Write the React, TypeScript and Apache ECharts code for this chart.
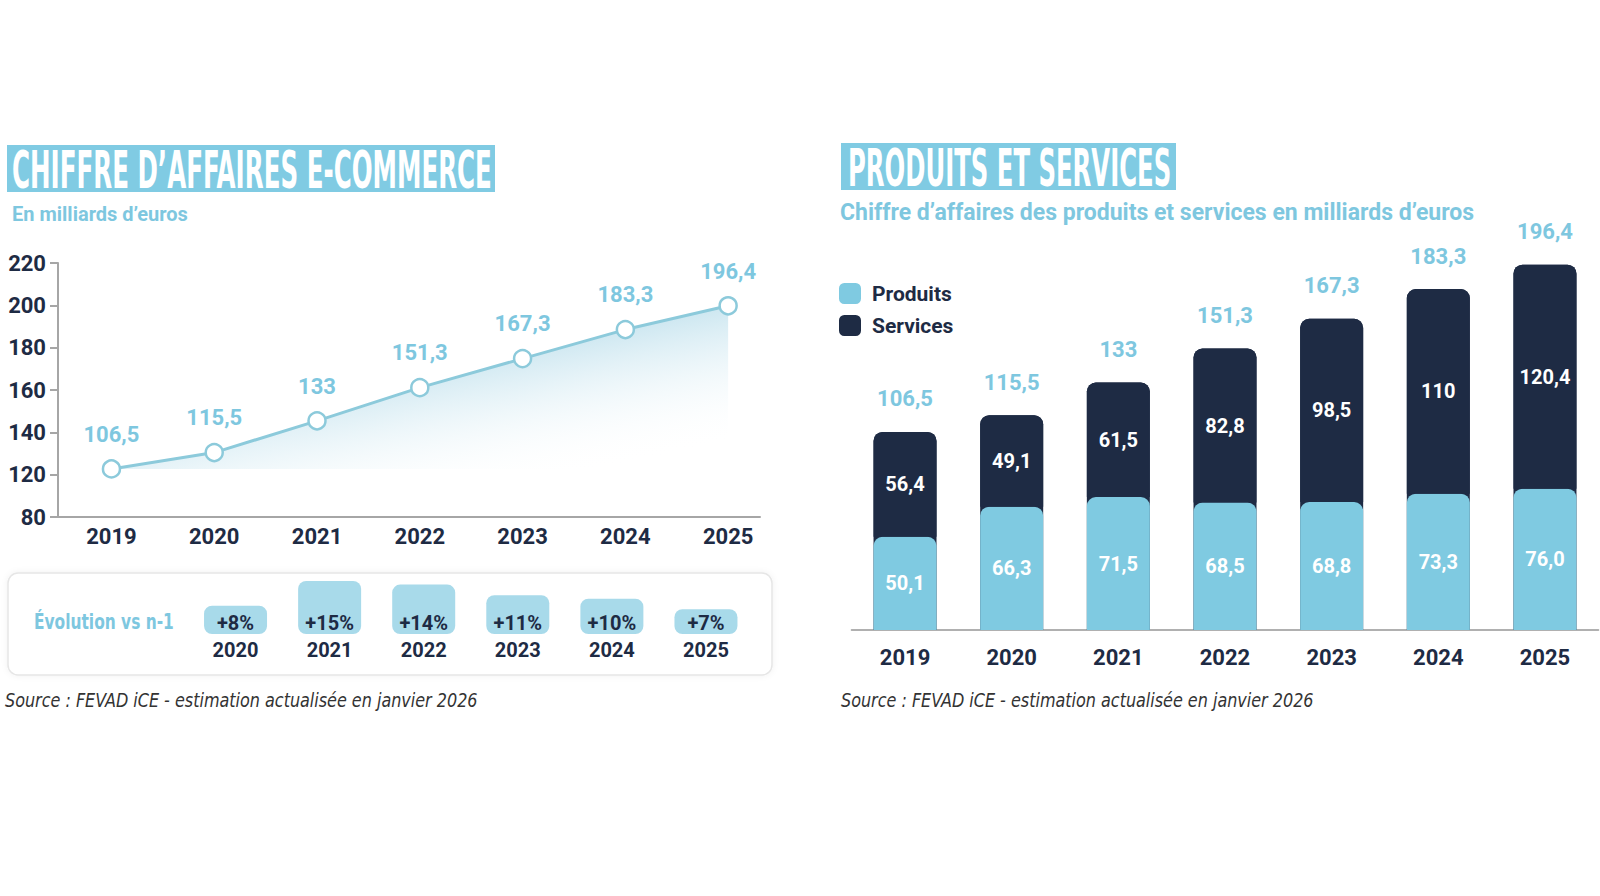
import React, { useEffect, useRef } from "react";
import * as echarts from "echarts";

const years = ["2019", "2020", "2021", "2022", "2023", "2024", "2025"];
const chiffreAffaires = [106.5, 115.5, 133, 151.3, 167.3, 183.3, 196.4];
const chiffreAffairesLabels = ["106,5", "115,5", "133", "151,3", "167,3", "183,3", "196,4"];
const produits = [50.1, 66.3, 71.5, 68.5, 68.8, 73.3, 76.0];
const produitsLabels = ["50,1", "66,3", "71,5", "68,5", "68,8", "73,3", "76,0"];
const services = [56.4, 49.1, 61.5, 82.8, 98.5, 110, 120.4];
const servicesLabels = ["56,4", "49,1", "61,5", "82,8", "98,5", "110", "120,4"];
const evolYears = ["2020", "2021", "2022", "2023", "2024", "2025"];
const evolution = [8, 15, 14, 11, 10, 7];
const evolLabels = ["+8%", "+15%", "+14%", "+11%", "+10%", "+7%"];
const yTickLabels = ["80", "120", "140", "160", "180", "200", "220"];

const NAVY = "#1e2b44";
const LIGHT = "#7ec7df";
const BOX = "#80cbe3";
const NARROW = '"Liberation Sans Narrow", "DejaVu Sans Condensed", sans-serif';
const SANS = "Roboto, sans-serif";

export default function App() {
  const ref = useRef<HTMLDivElement>(null);
  useEffect(() => {
    if (!ref.current) return;
    const chart = echarts.init(ref.current, null, { renderer: "svg" });
    const yearNums = years.map(Number);
    const option: any = {
      animation: false,
      backgroundColor: "#ffffff",
      textStyle: { fontFamily: SANS },
      grid: [
        { left: 58, top: 263, width: 702, height: 254 },
        { left: 188.5, top: 581, width: 564.5, height: 53 },
        { left: 851.7, top: 258, width: 746.6, height: 372 },
      ],
      legend: {
        data: ["Produits", "Services"],
        orient: "vertical",
        left: 839,
        top: 283,
        padding: 0,
        itemWidth: 22,
        itemHeight: 21,
        itemGap: 11,
        icon: "roundRect",
        textStyle: { color: NAVY, fontSize: 21, fontWeight: "bold", fontFamily: SANS, padding: [0, 0, 0, 6] },
      },
      xAxis: [
        {
          type: "value",
          gridIndex: 0,
          min: 2018.48,
          max: 2025.31,
          splitLine: { show: false },
          axisTick: { show: false },
          axisLine: { show: true, lineStyle: { color: "#a6a6a6", width: 2 } },
          axisLabel: {
            customValues: yearNums,
            formatter: (v: number) => String(v),
            color: NAVY,
            fontWeight: "bold",
            fontSize: 22,
            fontFamily: SANS,
            margin: 8,
          },
        },
        {
          type: "category",
          gridIndex: 1,
          data: evolYears,
          axisLine: { show: false },
          axisTick: { show: false },
          axisLabel: { color: NAVY, fontWeight: "bold", fontSize: 20, fontFamily: SANS, margin: 6 },
        },
        {
          type: "category",
          gridIndex: 2,
          data: years,
          axisLine: { show: true, lineStyle: { color: "#b0b0b0", width: 2 } },
          axisTick: { show: false },
          axisLabel: { color: NAVY, fontWeight: "bold", fontSize: 22, fontFamily: SANS, margin: 16 },
        },
      ],
      yAxis: [
        {
          type: "category",
          gridIndex: 0,
          data: yTickLabels,
          boundaryGap: false,
          axisLine: { show: true, lineStyle: { color: "#a6a6a6", width: 2 } },
          axisTick: { show: true, length: 8, lineStyle: { color: "#a6a6a6", width: 2 } },
          axisLabel: { color: NAVY, fontWeight: "bold", fontSize: 22, fontFamily: SANS, margin: 12 },
          splitLine: { show: false },
        },
        { type: "value", gridIndex: 0, min: 80, max: 220, show: false },
        { type: "value", gridIndex: 1, min: 0, max: 15, show: false },
        { type: "value", gridIndex: 2, min: 0, max: 200, show: false },
      ],
      series: [
        {
          type: "line",
          name: "Chiffre d'affaires",
          xAxisIndex: 0,
          yAxisIndex: 1,
          data: yearNums.map((y, i) => [y, chiffreAffaires[i]]),
          symbol: "circle",
          symbolSize: 17,
          lineStyle: { color: "#8ccadb", width: 3 },
          itemStyle: { color: "#ffffff", borderColor: "#8ccadb", borderWidth: 2.5 },
          areaStyle: {
            origin: chiffreAffaires[0],
            opacity: 1,
            color: new echarts.graphic.LinearGradient(0, 0, 0.8, 1, [
              { offset: 0, color: "rgba(110,185,212,0.85)" },
              { offset: 0.45, color: "rgba(140,200,222,0.5)" },
              { offset: 1, color: "rgba(255,255,255,0)" },
            ]),
          },
          label: {
            show: true,
            position: "top",
            distance: 14,
            formatter: (p: any) => chiffreAffairesLabels[p.dataIndex],
            color: LIGHT,
            fontWeight: "bold",
            fontSize: 22,
            fontFamily: SANS,
          },
          z: 3,
        },
        {
          type: "bar",
          name: "Évolution",
          xAxisIndex: 1,
          yAxisIndex: 2,
          data: evolution,
          barWidth: 63,
          itemStyle: { color: "#a8daea", borderRadius: 8 },
          label: {
            show: true,
            position: "insideBottom",
            distance: 1,
            formatter: (p: any) => evolLabels[p.dataIndex],
            color: NAVY,
            fontWeight: "bold",
            fontSize: 20,
            fontFamily: SANS,
          },
        },
        {
          type: "bar",
          name: "Total",
          xAxisIndex: 2,
          yAxisIndex: 3,
          data: chiffreAffaires,
          barWidth: 63,
          barGap: "-100%",
          itemStyle: { color: NAVY, borderRadius: [9, 9, 0, 0] },
          label: {
            show: true,
            position: "top",
            distance: 22,
            formatter: (p: any) => chiffreAffairesLabels[p.dataIndex],
            color: LIGHT,
            fontWeight: "bold",
            fontSize: 22,
            fontFamily: SANS,
          },
        },
        {
          type: "bar",
          name: "Produits",
          xAxisIndex: 2,
          yAxisIndex: 3,
          stack: "ps",
          data: produits,
          barWidth: 63,
          barGap: "-100%",
          itemStyle: { color: "#7fcae1", borderRadius: [9, 9, 0, 0] },
          label: {
            show: true,
            position: "inside",
            formatter: (p: any) => produitsLabels[p.dataIndex],
            color: "#ffffff",
            fontWeight: "bold",
            fontSize: 20,
            fontFamily: SANS,
          },
        },
        {
          type: "bar",
          name: "Services",
          xAxisIndex: 2,
          yAxisIndex: 3,
          stack: "ps",
          data: services,
          barWidth: 63,
          barGap: "-100%",
          itemStyle: { color: NAVY, borderRadius: [9, 9, 0, 0] },
          label: {
            show: true,
            position: "inside",
            formatter: (p: any) => servicesLabels[p.dataIndex],
            color: "#ffffff",
            fontWeight: "bold",
            fontSize: 20,
            fontFamily: SANS,
          },
        },
      ],
      graphic: [
        { type: "rect", shape: { x: 7, y: 145, width: 488, height: 47 }, style: { fill: BOX }, z: 0 },
        {
          type: "text",
          x: 12,
          y: 170,
          scaleX: 0.525,
          style: { text: "CHIFFRE D’AFFAIRES E-COMMERCE", fill: "#ffffff", fontSize: 52, fontWeight: "bold", fontFamily: NARROW, verticalAlign: "middle" },
          z: 1,
        },
        {
          type: "text",
          x: 12,
          y: 214,
          style: { text: "En milliards d’euros", fill: LIGHT, fontSize: 20, fontWeight: "bold", fontFamily: SANS, verticalAlign: "middle" },
        },
        { type: "rect", shape: { x: 841, y: 143, width: 335, height: 47 }, style: { fill: BOX }, z: 0 },
        {
          type: "text",
          x: 848,
          y: 168,
          scaleX: 0.52,
          style: { text: "PRODUITS ET SERVICES", fill: "#ffffff", fontSize: 52, fontWeight: "bold", fontFamily: NARROW, verticalAlign: "middle" },
          z: 1,
        },
        {
          type: "text",
          x: 840,
          y: 212,
          style: { text: "Chiffre d’affaires des produits et services en milliards d’euros", fill: LIGHT, fontSize: 23, fontWeight: "bold", fontFamily: SANS, verticalAlign: "middle" },
        },
        {
          type: "rect",
          shape: { x: 8, y: 573, width: 764, height: 102, r: 10 },
          style: { fill: "#ffffff", stroke: "#e6e6e6", lineWidth: 1.5, shadowBlur: 6, shadowColor: "rgba(0,0,0,0.06)" },
          z: -1,
        },
        {
          type: "text",
          x: 34,
          y: 622,
          scaleX: 0.78,
          style: { text: "Évolution vs n-1", fill: LIGHT, fontSize: 22, fontWeight: "bold", fontFamily: NARROW, verticalAlign: "middle" },
        },
        {
          type: "text",
          x: 5,
          y: 700,
          scaleX: 0.89,
          style: { text: "Source : FEVAD iCE - estimation actualisée en janvier 2026", fill: "#333333", fontSize: 20, fontStyle: "italic", fontFamily: NARROW, verticalAlign: "middle" },
        },
        {
          type: "text",
          x: 841,
          y: 700,
          scaleX: 0.89,
          style: { text: "Source : FEVAD iCE - estimation actualisée en janvier 2026", fill: "#333333", fontSize: 20, fontStyle: "italic", fontFamily: NARROW, verticalAlign: "middle" },
        },
      ],
    };
    chart.setOption(option);
    return () => chart.dispose();
  }, []);
  return <div ref={ref} style={{ position: "fixed", left: 0, top: 0, width: 1600, height: 896 }} />;
}
